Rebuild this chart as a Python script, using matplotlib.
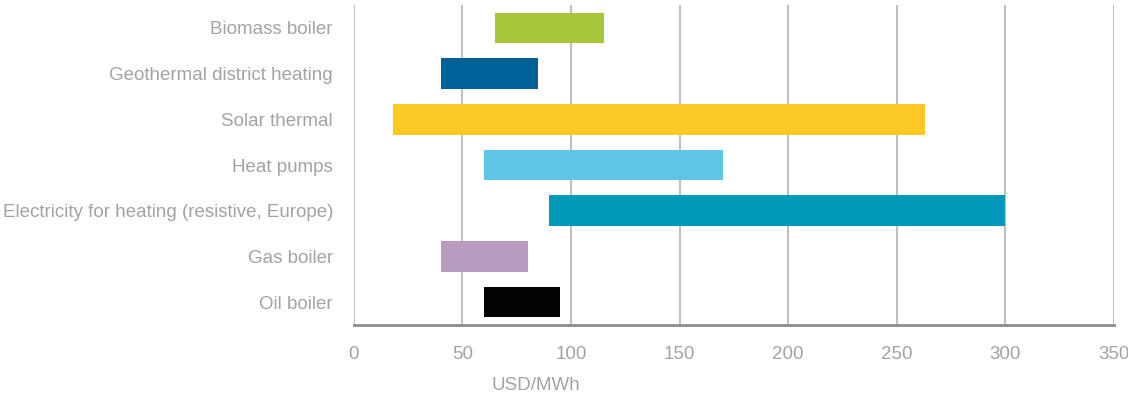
import matplotlib
matplotlib.use("Agg")
import matplotlib.pyplot as plt

plt.rcParams["font.family"] = ["Liberation Sans", "DejaVu Sans"]

# cost ranges, USD/MWh (top to bottom as drawn)
categories = ["Biomass boiler", "Geothermal district heating", "Solar thermal",
              "Heat pumps", "Electricity for heating (resistive, Europe)",
              "Gas boiler", "Oil boiler"]
low = [65, 40, 18, 60, 90, 40, 60]
high = [115, 85, 263, 170, 300, 80, 95]
colors = ["#A8C63C", "#006098", "#FCC927", "#5EC5E7", "#009AB8", "#B99CBF", "#020303"]

xticks = [0, 50, 100, 150, 200, 250, 300, 350]
xlabel = "USD/MWh"

grey_text = "#A3A3A3"

fig = plt.figure(figsize=(11.28, 3.98), dpi=100)
ax = fig.add_axes([0.3136, 0.1834, 0.674, 0.804])

n = len(categories)
ypos = list(range(n))[::-1]
widths = [h - l for l, h in zip(low, high)]
ax.barh(ypos, widths, left=low, height=0.67, color=colors, zorder=3)

ax.set_xlim(0, 350)
ax.set_ylim(-0.5, n - 0.5)
ax.set_xticks(xticks)
ax.set_yticks(ypos)
ax.set_yticklabels(categories)
ax.xaxis.grid(True, color="#C0C0C0", linewidth=1.5, zorder=0)
ax.yaxis.grid(False)
for s in ["top", "right", "left"]:
    ax.spines[s].set_visible(False)
ax.spines["bottom"].set_color("#8C8C8C")
ax.spines["bottom"].set_linewidth(2)
ax.tick_params(axis="both", length=0, labelcolor=grey_text, labelsize=13.5)
ax.tick_params(axis="y", pad=15)
ax.tick_params(axis="x", pad=15)
for lbl in ax.get_xticklabels():
    lbl.set_clip_on(False)

ax.text(84, -0.19, xlabel, transform=ax.get_xaxis_transform(),
        ha="center", va="center", color=grey_text, fontsize=13.5)

fig.savefig("out.png", dpi=100)
